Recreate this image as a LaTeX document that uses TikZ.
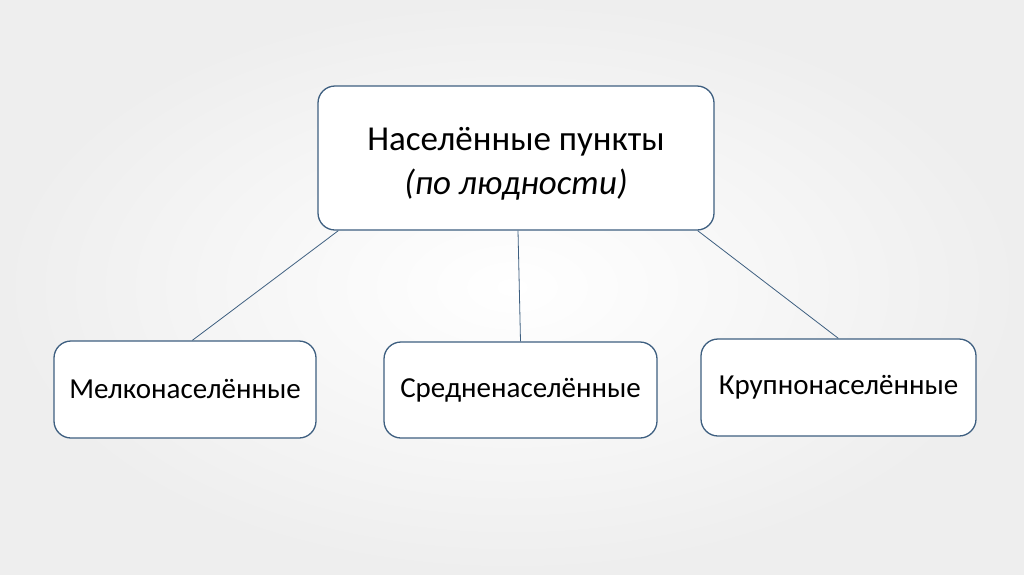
\documentclass[tikz,border=0pt]{standalone}
\usepackage{fontspec}
\setmainfont{Carlito}
\usetikzlibrary{calc}
\definecolor{edge}{HTML}{3E5F80}
\definecolor{bgout}{HTML}{EEEEEE}
\tikzset{
  boxn/.style={draw=edge, line width=1.3pt, fill=white, rounded corners=17pt, inner sep=0pt},
  conn/.style={draw=edge, line width=0.8pt},
  lowtext/.style={font=\fontsize{29}{34}\selectfont},
}
\begin{document}
\begin{tikzpicture}[x=1pt,y=-1pt]
\useasboundingbox (0,0) rectangle (1024,574);
\shade[inner color=white, outer color=bgout] (0,0) rectangle (1024,574);
\node[boxn, minimum width=396pt, minimum height=144pt] (top) at (516,158) {};
\node[align=center, font=\fontsize{35}{44}\selectfont, inner sep=0pt] (toptext) at (516,164) {Населённые пункты\\\textit{(по людности)}};
\node[boxn, lowtext, minimum width=262pt, minimum height=97pt] (l) at (185,389.5) {Мелконаселённые};
\node[boxn, lowtext, minimum width=273pt, minimum height=96pt] (m) at (520.5,390) {Средненаселённые};
\node[boxn, lowtext, minimum width=275pt, minimum height=97pt] (r) at (838.5,387.5) {Крупнонаселённые};
\draw[conn] ($(top.south west)+(21,0)$) -- ($(l.north west)+(139,0)$);
\draw[conn] ($(top.south)+(2,0)$) -- (m.north);
\draw[conn] ($(top.south east)+(-17,0)$) -- ($(r.north west)+(138,0)$);
\end{tikzpicture}
\end{document}
